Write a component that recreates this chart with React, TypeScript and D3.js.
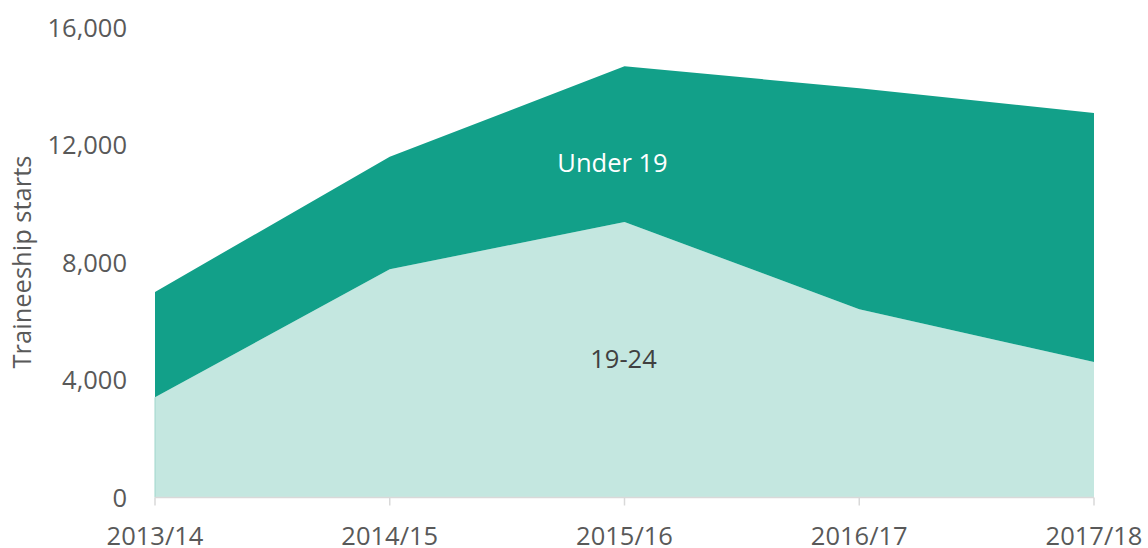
import React from "react";
import * as d3 from "d3";

const categories = ["2013/14", "2014/15", "2015/16", "2016/17", "2017/18"];
const age19to24 = [3410, 7770, 9380, 6410, 4610];
const under19 = [3590, 3830, 5300, 7520, 8480];
const yTicks = [0, 4000, 8000, 12000, 16000];
const seriesKeys = ["age19to24", "under19"];
const seriesLabels = ["19-24", "Under 19"];
const seriesColors = ["#c4e7e0", "#12a089"];

const W = 1148;
const H = 548;
const left = 155;
const right = 1094;
const top = 27.5;
const bottom = 497.5;

export default function App() {
  const rows = categories.map((c, i) => ({ cat: c, age19to24: age19to24[i], under19: under19[i] }));
  const stacked = d3.stack<any>().keys(seriesKeys)(rows);
  const x = d3.scalePoint<string>().domain(categories).range([left, right]);
  const y = d3.scaleLinear().domain([0, 16000]).range([bottom, top]);
  const area = d3
    .area<any>()
    .x((d) => x(d.data.cat) as number)
    .y0((d) => y(d[0]))
    .y1((d) => y(d[1]));
  const fmt = d3.format(",");
  const font = "'Open Sans', 'Noto Sans', sans-serif";
  const fs = 25.5;
  const labelPos = [
    { cat: "2015/16", dx: -1, v: 4700, color: "#404040" },
    { cat: "2015/16", dx: -12, v: 11400, color: "#ffffff" },
  ];
  return (
    <svg width={W} height={H} style={{ position: "absolute", left: 0, top: 0 }} fontFamily={font}>
      {stacked.map((s, i) => (
        <path key={s.key} d={area(s) as string} fill={seriesColors[i]} />
      ))}
      <line x1={left} x2={left} y1={y(0)} y2={y(age19to24[0])} stroke="#9fd6cb" strokeWidth={1} />
      <line x1={left} x2={right} y1={bottom} y2={bottom} stroke="#d9d9d9" strokeWidth={1.5} />
      {categories.map((c) => (
        <g key={c}>
          <line x1={x(c)} x2={x(c)} y1={bottom} y2={bottom + 8} stroke="#d9d9d9" strokeWidth={1.5} />
          <text x={x(c)} y={545} textAnchor="middle" fontSize={fs} fill="#595959">
            {c}
          </text>
        </g>
      ))}
      {yTicks.map((t) => (
        <text key={t} x={127} y={y(t) + 9} textAnchor="end" fontSize={fs} fill="#595959">
          {fmt(t)}
        </text>
      ))}
      <text
        transform={`translate(31,${262}) rotate(-90)`}
        textAnchor="middle"
        fontSize={fs}
        fill="#595959"
      >
        Traineeship starts
      </text>
      {labelPos.map((l, i) => (
        <text
          key={i}
          x={(x(l.cat) as number) + l.dx}
          y={y(l.v) + 9}
          textAnchor="middle"
          fontSize={fs}
          fill={l.color}
        >
          {seriesLabels[i]}
        </text>
      ))}
    </svg>
  );
}
